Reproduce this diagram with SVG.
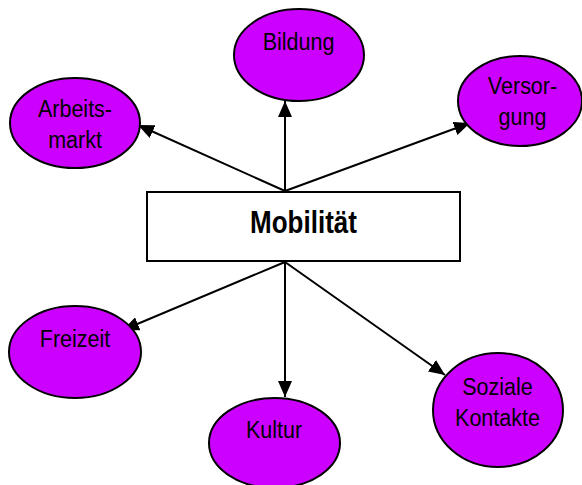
<svg xmlns="http://www.w3.org/2000/svg" width="582" height="485" viewBox="0 0 582 485">
<style>
.node ellipse{fill:#cc00ff;stroke:#000;stroke-width:2}
.lbl{font-family:"Liberation Sans",Arial,sans-serif;font-size:21.5px;text-anchor:middle;fill:#000}
.hub rect{fill:#fff;stroke:#000;stroke-width:2}
.hub text{font-family:"Liberation Sans",Arial,sans-serif;font-size:26px;font-weight:bold;text-anchor:middle;fill:#000}
.edges line{stroke:#000;stroke-width:2;marker-end:url(#ah)}
</style>
<defs>
<marker id="ah" viewBox="0 0 16 14" refX="16" refY="7" markerWidth="16" markerHeight="14" markerUnits="userSpaceOnUse" orient="auto">
<path d="M0,0 L16,7 L0,14 Z" fill="#000"/>
</marker>
</defs>
<rect width="582" height="485" fill="#fff"/>
<g class="edges">
<line x1="285" y1="191" x2="138" y2="125"/>
<line x1="285" y1="191" x2="285" y2="101"/>
<line x1="285" y1="191" x2="470" y2="123"/>
<line x1="285" y1="262" x2="123" y2="330"/>
<line x1="285" y1="262" x2="285" y2="397"/>
<line x1="285" y1="262" x2="445" y2="375"/>
</g>
<g id="hub" class="hub">
<rect x="147" y="192" width="313" height="69"/>
<text transform="translate(303.5,233) scale(1,1.2)">Mobilität</text>
</g>
<g id="arbeitsmarkt" class="node">
<ellipse cx="75" cy="123" rx="65" ry="45"/>
<text class="lbl" transform="translate(75,117) scale(1,1.15)">Arbeits-</text>
<text class="lbl" transform="translate(75,148) scale(1,1.15)">markt</text>
</g>
<g id="bildung" class="node">
<ellipse cx="299" cy="55" rx="65" ry="46"/>
<text class="lbl" transform="translate(298.5,50) scale(1,1.15)">Bildung</text>
</g>
<g id="versorgung" class="node">
<ellipse cx="520" cy="101" rx="62" ry="45"/>
<text class="lbl" transform="translate(522.5,94) scale(1,1.15)">Versor-</text>
<text class="lbl" transform="translate(522.5,125) scale(1,1.15)">gung</text>
</g>
<g id="freizeit" class="node">
<ellipse cx="75" cy="352" rx="66" ry="46"/>
<text class="lbl" transform="translate(75,346.5) scale(1,1.15)">Freizeit</text>
</g>
<g id="kultur" class="node">
<ellipse cx="274.5" cy="443" rx="65.5" ry="45"/>
<text class="lbl" transform="translate(274,438) scale(1,1.15)">Kultur</text>
</g>
<g id="soziale" class="node">
<ellipse cx="498" cy="410" rx="65" ry="57"/>
<text class="lbl" transform="translate(497.5,395) scale(1,1.15)">Soziale</text>
<text class="lbl" transform="translate(497.5,426) scale(1,1.15)">Kontakte</text>
</g>
</svg>
